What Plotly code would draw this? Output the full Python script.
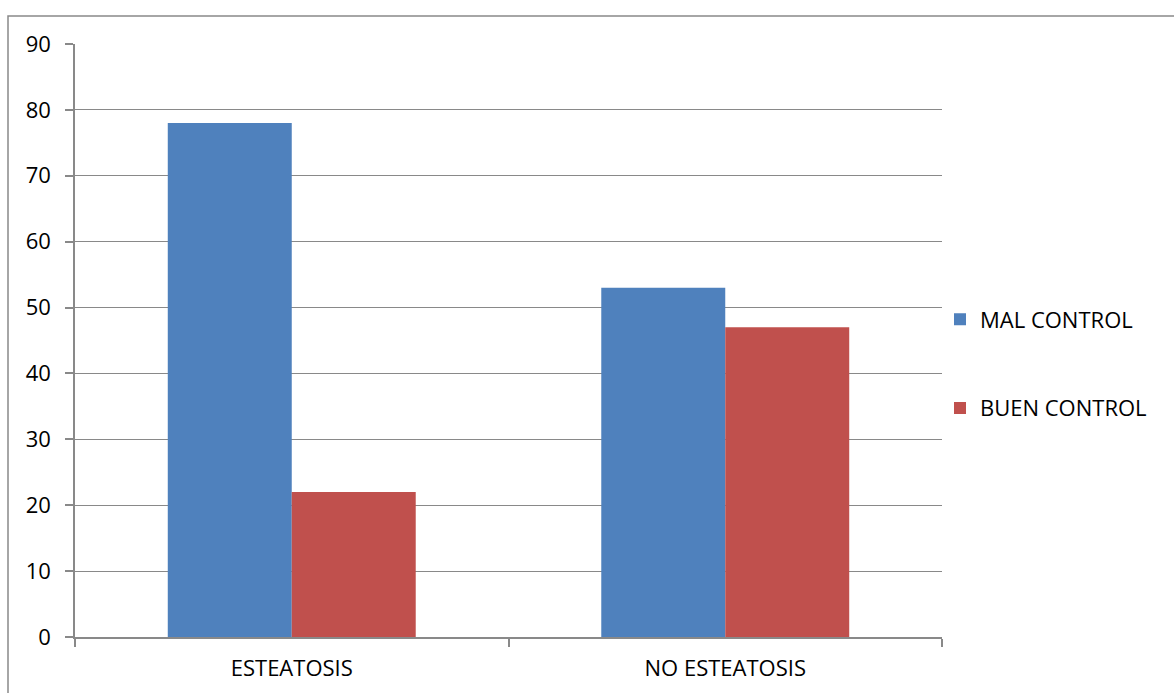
import plotly.graph_objects as go

categories = ["ESTEATOSIS", "NO ESTEATOSIS"]
mal_control = [78, 53]
buen_control = [22, 47]
series_names = ["MAL CONTROL", "BUEN CONTROL"]
y_ticks = list(range(0, 91, 10))

W, H = 1174, 693
L, R, T, B = 75, 232, 44, 56
pw, ph = W - L - R, H - T - B

def px_x(p):
    return (p - L) / pw

def px_y(p):
    return (H - B - p) / ph

font = dict(family="Open Sans, Liberation Sans, sans-serif", size=22, color="#000000")

fig = go.Figure()
fig.add_trace(go.Bar(x=categories, y=mal_control, name=series_names[0],
                     marker=dict(color="#4F81BD", line=dict(width=0)), legendgroup="a"))
fig.add_trace(go.Bar(x=categories, y=buen_control, name=series_names[1],
                     marker=dict(color="#C0504D", line=dict(width=0)), legendgroup="b"))

fig.update_layout(
    width=W, height=H,
    margin=dict(l=L, r=R, t=T, b=B, autoexpand=False),
    paper_bgcolor="white", plot_bgcolor="white",
    barmode="group", bargap=0.428, bargroupgap=0,
    font=font,
    legend=dict(x=px_x(940), y=px_y(364), xanchor="left", yanchor="middle",
                tracegroupgap=57, font=font, bgcolor="rgba(0,0,0,0)"),
    showlegend=True,
)
fig.update_xaxes(showline=True, linecolor="#898989", linewidth=1.5,
                 ticks="outside", ticklen=8, tickcolor="#898989", tickwidth=2,
                 tickson="boundaries", showgrid=False, ticklabelstandoff=11,
                 tickfont=font)
fig.update_yaxes(range=[0, 90], tickvals=y_ticks, showline=True, linecolor="#898989",
                 linewidth=1.5, ticks="outside", ticklen=8, tickcolor="#898989",
                 tickwidth=1.5, showgrid=True, gridcolor="#898989", gridwidth=1.2,
                 zeroline=False, ticklabelstandoff=10, tickfont=font)

fig.add_shape(type="rect", xref="paper", yref="paper",
              x0=px_x(8), x1=px_x(1190), y0=px_y(710), y1=px_y(16),
              line=dict(color="#898989", width=1.5), fillcolor="rgba(0,0,0,0)", layer="below")

fig.write_html("out.html")
